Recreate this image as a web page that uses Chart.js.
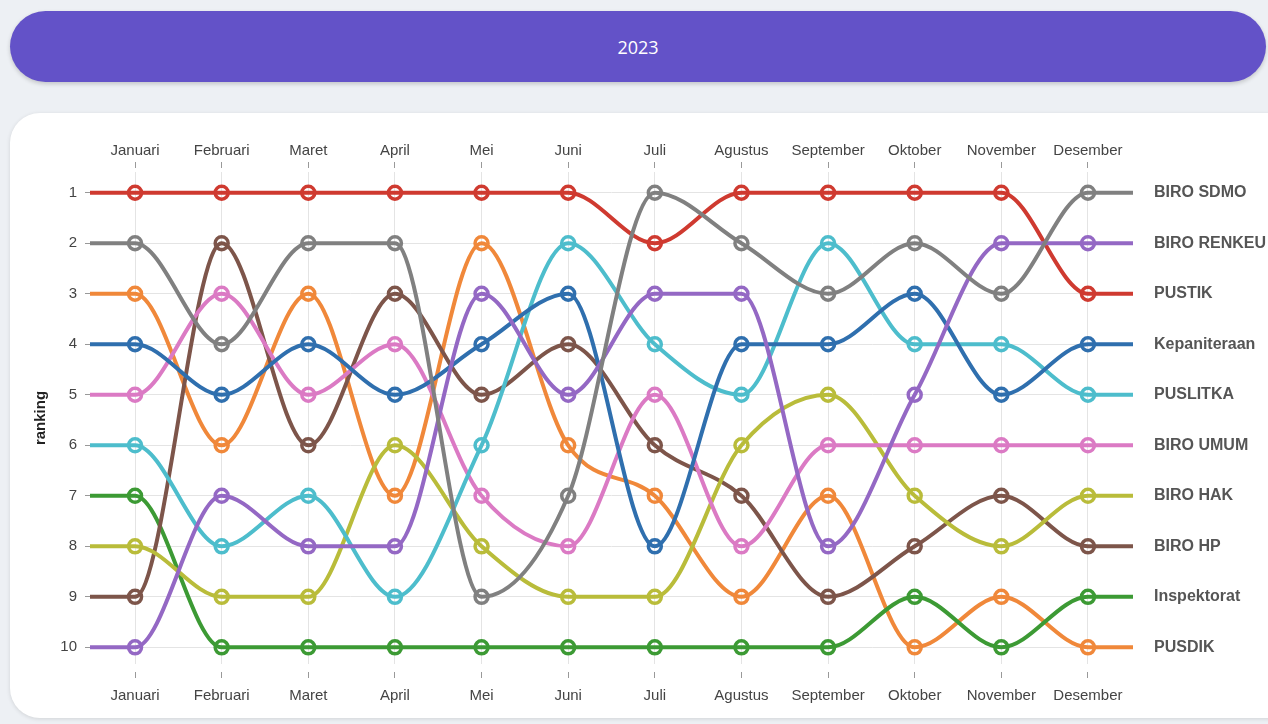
<!DOCTYPE html>
<html lang="id">
<head>
<meta charset="utf-8">
<title>Ranking Unit Kerja 2023</title>
<script src="https://cdn.jsdelivr.net/npm/chart.js@4.4.1/dist/chart.umd.min.js"></script>
<style>
  html, body {
    margin: 0;
    padding: 0;
    width: 1268px;
    height: 724px;
    overflow: hidden;
    background: #edf0f4;
    font-family: 'Liberation Sans', Arial, sans-serif;
  }
  .banner {
    position: absolute;
    left: 10px;
    top: 11px;
    width: 1256px;
    height: 71px;
    border-radius: 36px;
    background: #6352c8;
    color: #fff;
    font-family: 'Open Sans', sans-serif;
    font-size: 18px;
    display: flex;
    align-items: center;
    justify-content: center;
    box-shadow: 0 2px 4px rgba(0, 0, 0, 0.18);
  }
  .card {
    position: absolute;
    left: 10px;
    top: 113px;
    width: 1290px;
    height: 605px;
    border-radius: 30px;
    background: #fff;
    box-shadow: 0 1px 4px rgba(0, 0, 0, 0.12);
  }
  .chart-box {
    position: absolute;
    left: 0;
    top: 0;
    width: 1258px;
    height: 605px;
  }
</style>
</head>
<body>
<div class="banner">2023</div>
<div class="card">
  <div class="chart-box"><canvas id="rankChart"></canvas></div>
</div>

<script>
// Months on the x axis
const months = ['Januari', 'Februari', 'Maret', 'April', 'Mei', 'Juni', 'Juli',
  'Agustus', 'September', 'Oktober', 'November', 'Desember'];

// Monthly ranking per unit (1 = best)
const biroSdmo     = [2, 4, 2, 2, 9, 7, 1, 2, 3, 2, 3, 1];
const biroRenkeu   = [10, 7, 8, 8, 3, 5, 3, 3, 8, 5, 2, 2];
const pustik       = [1, 1, 1, 1, 1, 1, 2, 1, 1, 1, 1, 3];
const kepaniteraan = [4, 5, 4, 5, 4, 3, 8, 4, 4, 3, 5, 4];
const puslitka     = [6, 8, 7, 9, 6, 2, 4, 5, 2, 4, 4, 5];
const biroUmum     = [5, 3, 5, 4, 7, 8, 5, 8, 6, 6, 6, 6];
const biroHak      = [8, 9, 9, 6, 8, 9, 9, 6, 5, 7, 8, 7];
const biroHp       = [9, 2, 6, 3, 5, 4, 6, 7, 9, 8, 7, 8];
const inspektorat  = [7, 10, 10, 10, 10, 10, 10, 10, 10, 9, 10, 9];
const pusdik       = [3, 6, 3, 7, 2, 6, 7, 9, 7, 10, 9, 10];

const unitNames = ['BIRO SDMO', 'BIRO RENKEU', 'PUSTIK', 'Kepaniteraan', 'PUSLITKA',
  'BIRO UMUM', 'BIRO HAK', 'BIRO HP', 'Inspektorat', 'PUSDIK'];
const unitRanks = [biroSdmo, biroRenkeu, pustik, kepaniteraan, puslitka,
  biroUmum, biroHak, biroHp, inspektorat, pusdik];
const rankTicks = [1, 2, 3, 4, 5, 6, 7, 8, 9, 10];

// Line colours (category10, slightly softened)
const unitColors = ['#808080', '#9468c4', '#cf3a30', '#2f6fae', '#4dbdcc',
  '#db7ac4', '#b9bc3a', '#7d554a', '#3c9a34', '#f0883a'];

// Axis ranges: half a step of room on each side for the line stubs
const X_MIN = -0.52;
const X_MAX = 11.52;
const Y_MIN = 0.59;
const Y_MAX = 10.33;

const FONT = "'Liberation Sans', Arial, sans-serif";
Chart.defaults.font.family = FONT;

// Build one line per unit, with flat stubs before the first and after the last month
const datasets = unitNames.map(function(name, k) {
  const ranks = unitRanks[k];
  const points = ranks.map(function(r, i) { return { x: i, y: r }; });
  points.unshift({ x: X_MIN, y: ranks[0] });
  points.push({ x: X_MAX, y: ranks[ranks.length - 1] });
  const last = points.length - 1;
  return {
    label: name,
    data: points,
    borderColor: unitColors[k],
    borderWidth: 4,
    cubicInterpolationMode: 'monotone',
    fill: false,
    pointRadius: function(ctx) {
      return (ctx.dataIndex === 0 || ctx.dataIndex === last) ? 0 : 6.5;
    },
    pointBorderWidth: 3.5,
    pointBorderColor: unitColors[k],
    pointBackgroundColor: 'rgba(255, 255, 255, 0)'
  };
});

// Unit names to the right of the last month
const endLabels = {
  id: 'endLabels',
  afterDatasetsDraw(chart) {
    const { ctx, chartArea, scales } = chart;
    ctx.save();
    ctx.font = 'bold 16px ' + FONT;
    ctx.fillStyle = '#555';
    ctx.textAlign = 'left';
    ctx.textBaseline = 'middle';
    unitNames.forEach(function(name, k) {
      const ranks = unitRanks[k];
      const y = scales.y.getPixelForValue(ranks[ranks.length - 1]);
      ctx.fillText(name, chartArea.right + 21, y);
    });
    ctx.restore();
  }
};

function monthTicks(scale) {
  scale.ticks = months.map(function(m, i) { return { value: i }; });
}

const monthLabelFont = { size: 15 };

new Chart(document.getElementById('rankChart'), {
  type: 'line',
  data: { datasets: datasets },
  options: {
    responsive: true,
    maintainAspectRatio: false,
    animation: false,
    layout: { padding: { left: 0, right: 135, top: 0, bottom: 0 } },
    plugins: {
      legend: { display: false },
      tooltip: { enabled: false }
    },
    scales: {
      x: {
        type: 'linear',
        position: 'bottom',
        min: X_MIN,
        max: X_MAX,
        afterBuildTicks: monthTicks,
        afterFit: function(scale) { scale.height = 54; },
        ticks: {
          callback: function(value) { return months[value]; },
          color: '#444',
          font: monthLabelFont,
          padding: 9,
          autoSkip: false,
          maxRotation: 0
        },
        grid: {
          color: '#e4e4e4',
          tickColor: '#999',
          tickLength: 14,
          tickBorderDash: [0, 8, 6, 50]
        },
        border: { display: false }
      },
      x2: {
        type: 'linear',
        axis: 'x',
        position: 'top',
        min: X_MIN,
        max: X_MAX,
        afterBuildTicks: monthTicks,
        afterFit: function(scale) { scale.height = 59; },
        ticks: {
          callback: function(value) { return months[value]; },
          color: '#444',
          font: monthLabelFont,
          padding: 2,
          autoSkip: false,
          maxRotation: 0
        },
        grid: {
          drawOnChartArea: false,
          tickColor: '#999',
          tickLength: 10,
          tickBorderDash: [6, 50]
        },
        border: { display: false }
      },
      y: {
        type: 'linear',
        reverse: true,
        min: Y_MIN,
        max: Y_MAX,
        afterBuildTicks: function(scale) {
          scale.ticks = rankTicks.map(function(r) { return { value: r }; });
        },
        afterFit: function(scale) { scale.width = 80; },
        ticks: {
          color: '#444',
          font: { size: 15 },
          padding: 8
        },
        grid: {
          color: '#e4e4e4',
          tickColor: '#999',
          tickLength: 5
        },
        border: { display: false },
        title: {
          display: true,
          text: 'ranking',
          color: '#222',
          font: { size: 15, weight: 'bold' },
          padding: { top: 22, bottom: 0 }
        }
      }
    }
  },
  plugins: [endLabels]
});
</script>
</body>
</html>
